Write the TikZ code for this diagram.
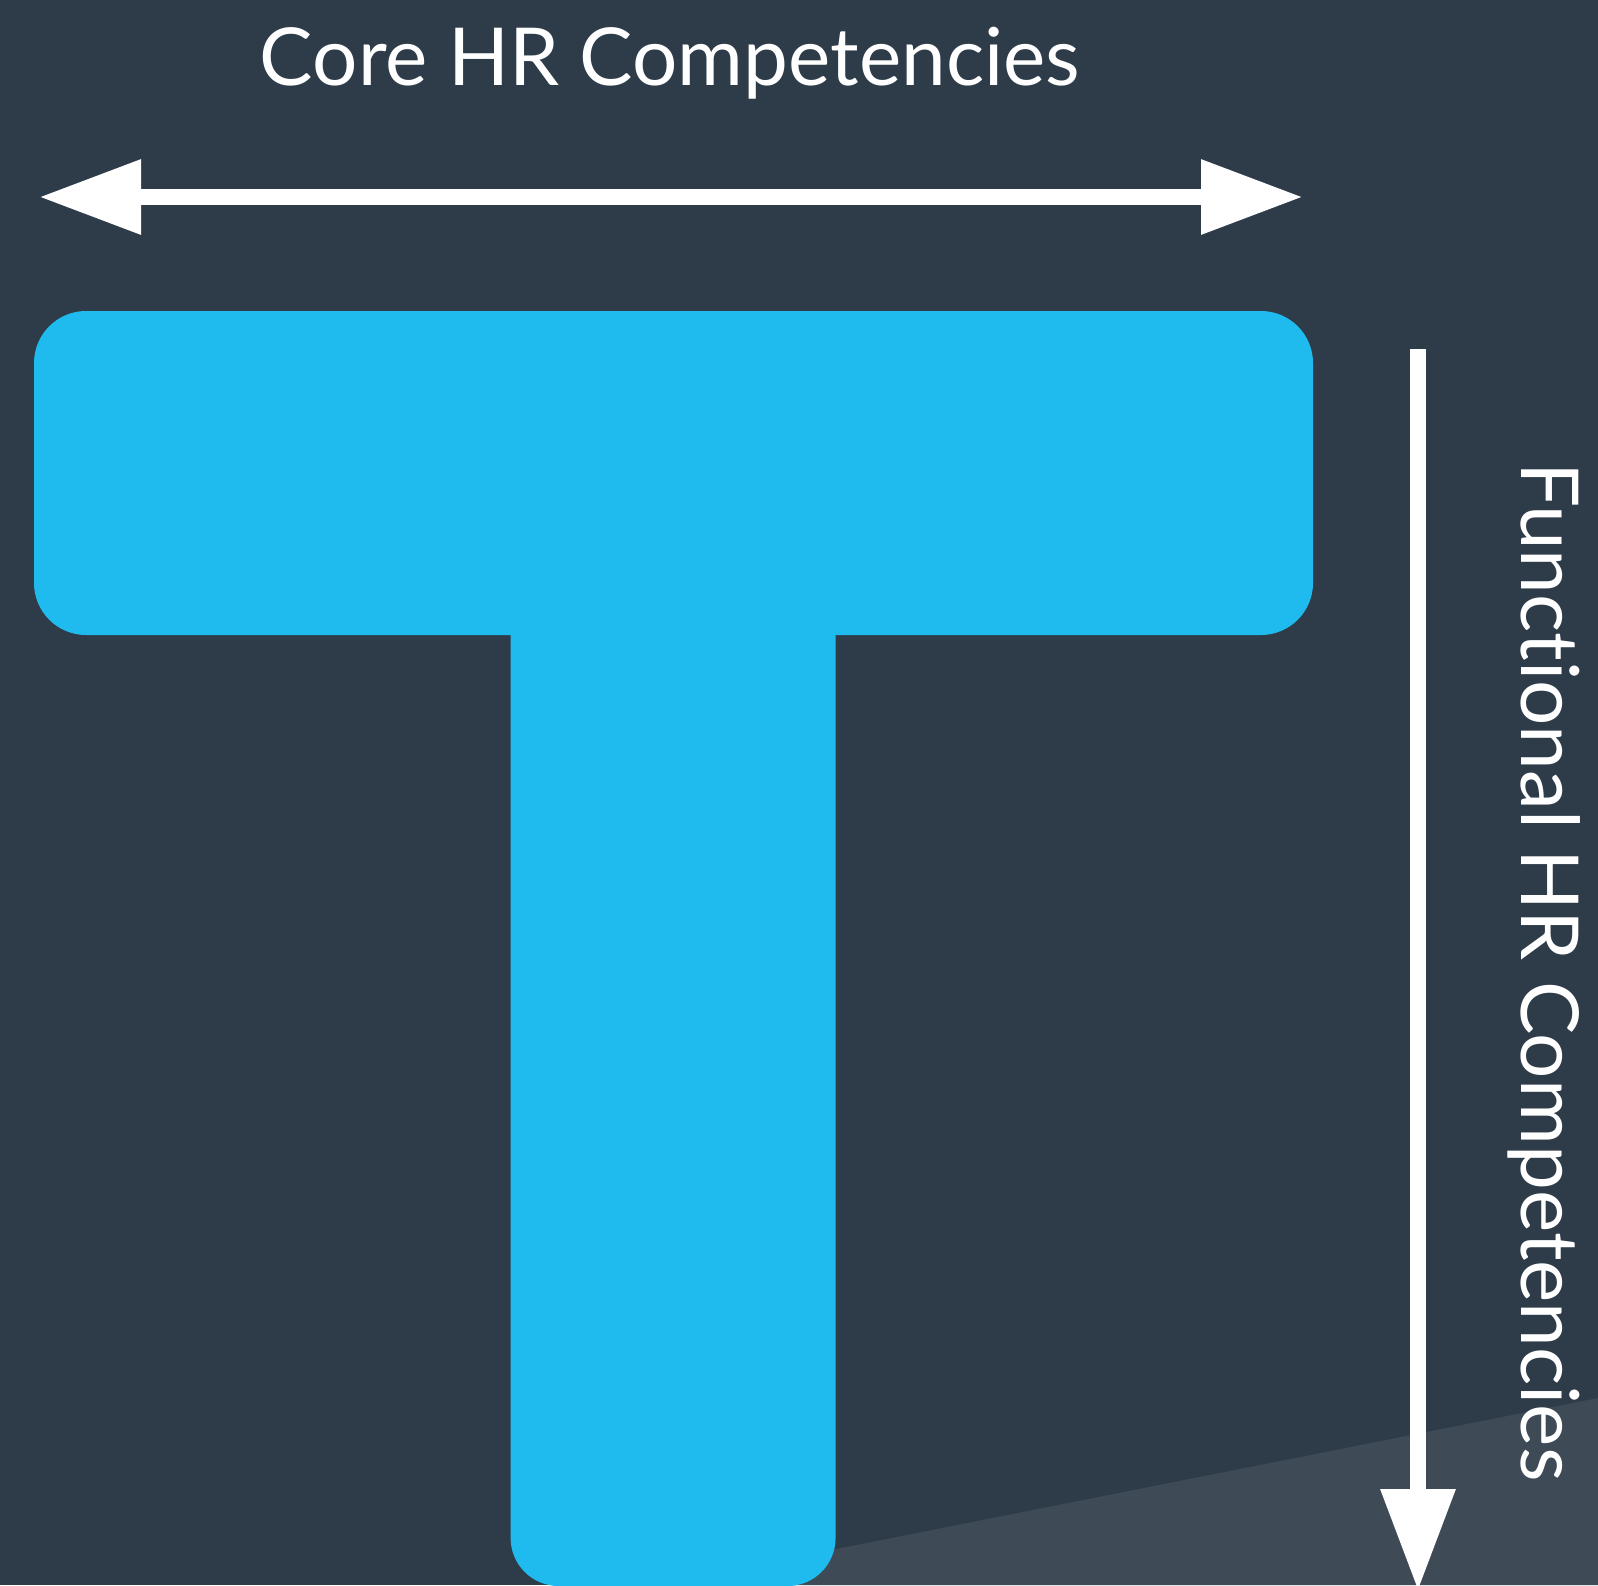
\documentclass[tikz,border=0pt]{standalone}
\usepackage{fontspec}
\setmainfont{Lato}[Ligatures=NoCommon]
\usetikzlibrary{arrows.meta}
\definecolor{bgdark}{HTML}{2E3B48}
\definecolor{bglight}{HTML}{3F4A57}
\definecolor{tblue}{HTML}{1FBBEF}
\tikzset{
  label text/.style={text=white, font=\fontsize{80}{94}\selectfont, inner sep=0pt},
  axis arrow/.style={draw=white, line width=16pt,
    -{Triangle[length=102pt, width=71pt]}},
  double axis/.style={draw=white, line width=16pt,
    {Triangle[length=102pt, width=71pt]}-{Triangle[length=102pt, width=71pt]}},
}
\begin{document}
\begin{tikzpicture}[x=1pt, y=-1pt]
  % canvas
  \fill[bgdark] (0,0) rectangle (1598,1585);
  \useasboundingbox (0,0) rectangle (1598,1585);
  % lighter floor wedge
  \fill[bglight] (700,1576) -- (1598,1398) -- (1598,1585) -- (700,1585) -- cycle;
  % the T shape
  \fill[tblue, rounded corners=52pt] (34,311) rectangle (1313,635);
  \fill[tblue] (510.6,311) -- (510.6,1538)
    arc[start angle=180, end angle=90, radius=48] -- (787.6,1586)
    arc[start angle=90, end angle=0, radius=48] -- (835.6,311) -- cycle;
  % horizontal axis
  \coordinate (hl) at (39,197);
  \coordinate (hr) at (1303,197);
  \draw[double axis] (hl) -- (hr);
  \node[label text, anchor=base] (core) at (670,85) {Core HR Competencies};
  % vertical axis
  \coordinate (vt) at (1418,349);
  \coordinate (vb) at (1418,1591);
  \draw[axis arrow] (vt) -- (vb);
  \node[label text, anchor=base, rotate=-90] (func) at (1521,972) {Functional HR Competencies};
\end{tikzpicture}
\end{document}
